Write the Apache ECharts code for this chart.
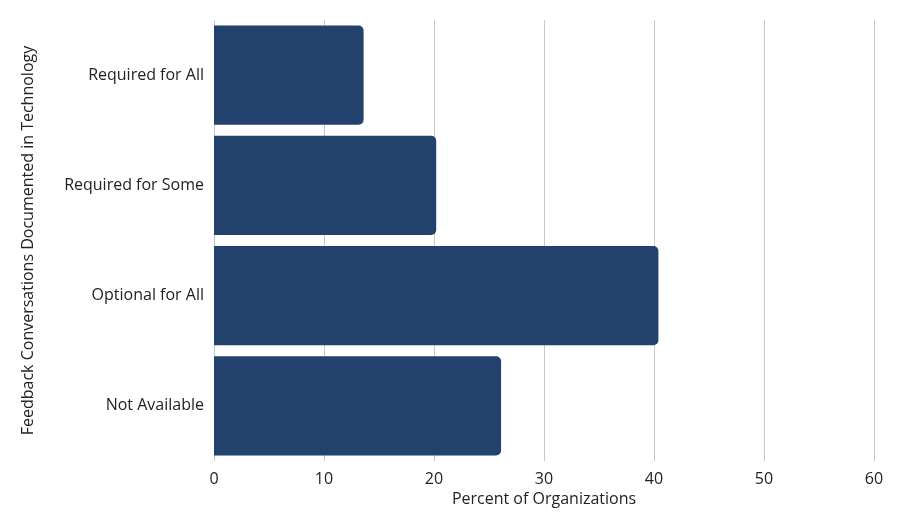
<!DOCTYPE html>
<html>
<head>
<meta charset="utf-8">
<script src="https://cdn.jsdelivr.net/npm/echarts@6/dist/echarts.min.js"></script>
<style>
  html, body { margin: 0; padding: 0; background: #fff; }
  #chart { width: 922px; height: 522px; }
</style>
</head>
<body>
<div id="chart"></div>
<script>
var categories = ['Required for All', 'Required for Some', 'Optional for All', 'Not Available'];
var percents = [13.6, 20.2, 40.4, 26.1];
var xTicks = [0, 10, 20, 30, 40, 50, 60];

var myChart = echarts.init(document.getElementById('chart'));
var option = {
    animation: false,
    grid: { left: 214, right: 48, top: 20, bottom: 61 },
    xAxis: {
        type: 'value',
        min: xTicks[0],
        max: xTicks[xTicks.length - 1],
        interval: 10,
        name: 'Percent of Organizations',
        nameLocation: 'middle',
        nameGap: 30,
        nameTextStyle: { color: '#222', fontSize: 16, fontFamily: 'Open Sans' },
        axisLine: { show: false },
        axisTick: { show: false },
        axisLabel: { color: '#222', fontSize: 16, fontFamily: 'Open Sans', margin: 10 },
        splitLine: { lineStyle: { color: '#c8c8c8', width: 1 } }
    },
    yAxis: {
        type: 'category',
        inverse: true,
        data: categories,
        name: 'Feedback Conversations Documented in Technology',
        nameLocation: 'middle',
        nameGap: 178,
        nameTextStyle: { color: '#222', fontSize: 16, fontFamily: 'Open Sans' },
        axisLine: { show: false },
        axisTick: { show: false },
        axisLabel: { color: '#222', fontSize: 16, fontFamily: 'Open Sans', margin: 10 }
    },
    series: [{
        type: 'bar',
        data: percents,
        barCategoryGap: '10%',
        itemStyle: { color: '#22416d', borderRadius: [0, 5, 5, 0] }
    }]
};
myChart.setOption(option);
</script>
</body>
</html>
